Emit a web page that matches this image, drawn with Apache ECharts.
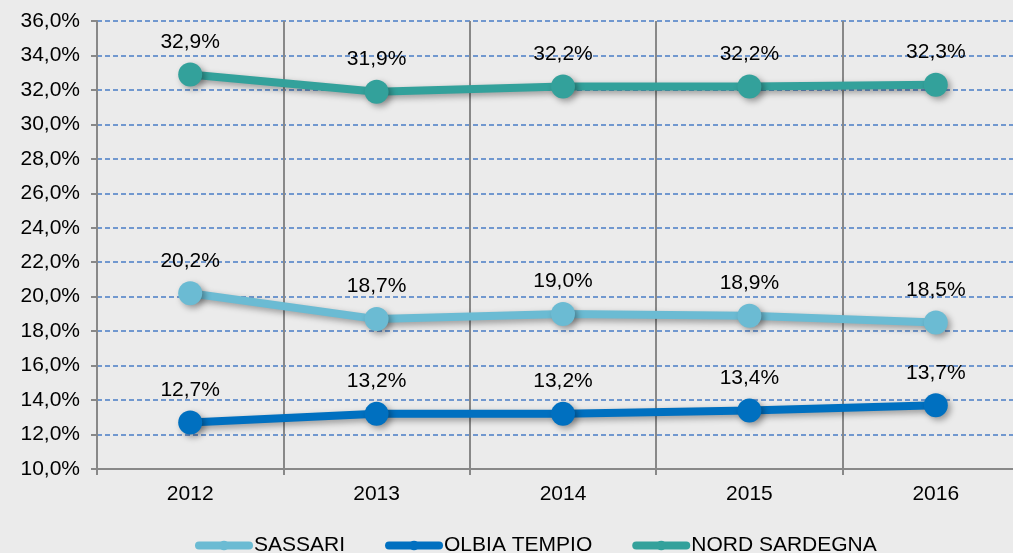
<!DOCTYPE html>
<html>
<head>
<meta charset="utf-8">
<script src="https://cdn.jsdelivr.net/npm/echarts@6/dist/echarts.min.js"></script>
<style>
  html, body { margin: 0; padding: 0; background: #ebebeb; overflow: hidden; }
  /* the last category runs past the right edge of the picture */
  #chart { width: 1029px; height: 553px; }
</style>
</head>
<body>
<div id="chart"></div>
<script>
const years = ['2012', '2013', '2014', '2015', '2016']
const sassari = [20.2, 18.7, 19.0, 18.9, 18.5]
const olbiaTempio = [12.7, 13.2, 13.2, 13.4, 13.7]
const nordSardegna = [32.9, 31.9, 32.2, 32.2, 32.3]

const colors = {
  sassari: '#6bbbd3',
  olbia: '#0070c0',
  nord: '#33a19b',
}

const fmt = v => v.toFixed(1).replace('.', ',') + '%'

function makeSerie(name, data, color) {
  return {
    name,
    type: 'line',
    data,
    symbol: 'circle',
    symbolSize: 24,
    color,
    lineStyle: {
      width: 8,
      color,
      shadowColor: 'rgba(0,0,0,0.35)',
      shadowBlur: 6,
      shadowOffsetX: 3,
      shadowOffsetY: 3,
    },
    itemStyle: {
      color,
      shadowColor: 'rgba(0,0,0,0.35)',
      shadowBlur: 6,
      shadowOffsetX: 3,
      shadowOffsetY: 3,
    },
    label: {
      show: true,
      position: 'top',
      distance: 10,
      fontFamily: 'Liberation Sans',
      fontSize: 21,
      color: '#000',
      formatter: p => fmt(p.value),
    },
    emphasis: { disabled: true },
  }
}

const chart = echarts.init(document.getElementById('chart'), null, { renderer: 'canvas' })

chart.setOption({
  backgroundColor: '#ebebeb',
  animation: false,
  textStyle: { fontFamily: 'Liberation Sans', color: '#000' },
  grid: { left: 97, top: 21, bottom: 84, right: 0, containLabel: false },
  legend: {
    top: 530,
    left: 190,
    itemWidth: 50,
    itemHeight: 12,
    itemGap: 40,
    lineStyle: { width: 8, cap: 'round', shadowBlur: 0, shadowOffsetX: 0, shadowOffsetY: 0 },
    itemStyle: { shadowBlur: 0, shadowOffsetX: 0, shadowOffsetY: 0 },
    textStyle: { fontFamily: 'Liberation Sans', fontSize: 21, color: '#000' },
    data: ['SASSARI', 'OLBIA TEMPIO', 'NORD SARDEGNA'],
  },
  xAxis: {
    type: 'category',
    data: years,
    boundaryGap: true,
    axisLine: { lineStyle: { color: '#888', width: 2 } },
    axisTick: { show: true, length: 6, lineStyle: { color: '#888', width: 2 } },
    axisLabel: { fontSize: 21, color: '#000', margin: 15 },
    splitLine: { show: true, lineStyle: { color: '#888', width: 2 } },
  },
  yAxis: {
    type: 'value',
    min: 10,
    max: 36,
    interval: 2,
    axisLine: { show: true, lineStyle: { color: '#888', width: 2 } },
    axisTick: { show: true, length: 6, lineStyle: { color: '#888', width: 2 } },
    axisLabel: { fontSize: 21, color: '#000', margin: 17, formatter: v => fmt(v) },
    splitLine: { lineStyle: { color: '#4a7dc6', width: 1.5, type: [5, 3] } },
  },
  series: [
    makeSerie('SASSARI', sassari, colors.sassari),
    makeSerie('OLBIA TEMPIO', olbiaTempio, colors.olbia),
    makeSerie('NORD SARDEGNA', nordSardegna, colors.nord),
  ],
})
</script>
</body>
</html>
